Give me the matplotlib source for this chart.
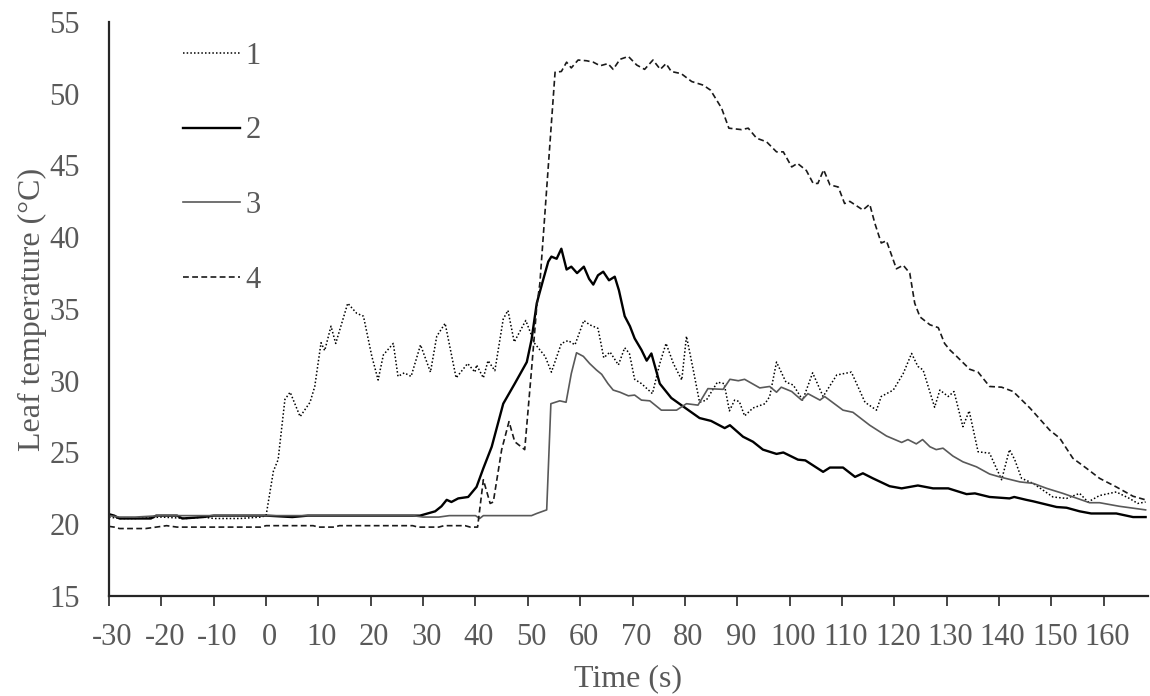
import matplotlib
matplotlib.use('Agg')
import matplotlib.pyplot as plt
import matplotlib.transforms as mtransforms

# series 1 (dotted)
t1 = [-30, -28, -25, -20, -15, -12, -10, -5, -1, 0, 1.4, 2.3, 3.6, 4.6, 6.5, 8.4, 9.3, 10.5, 11.2,
      12.4, 13.3, 15.6, 17.3, 18.6, 20.2, 21.4, 22.4, 24.3, 25.2, 26.4, 27.7, 29.5, 31.4, 32.6,
      34.2, 36.3, 38.5, 39.9, 40.2, 41.5, 42.4, 43.7, 45.3, 46.2, 47.4, 49.6, 51.3, 53.3, 54.5,
      56.4, 57.7, 59.0, 60.7, 61.8, 63.4, 64.5, 65.7, 67.3, 68.5, 69.4, 70.4, 71.7, 73.8, 75.2,
      76.4, 77.8, 79.4, 80.3, 81.6, 82.8, 84.1, 86.2, 87.5, 88.5, 89.5, 90.4, 91.4, 93.0, 95.3,
      96.2, 97.5, 99.3, 100.7, 102.5, 104.4, 106.4, 109.0, 111.8, 114.4, 116.6, 117.5, 119.8,
      121.7, 123.3, 124.5, 125.5, 127.7, 128.7, 130.3, 131.4, 133.1, 134.3, 136.0, 138.2, 140.5,
      142.0, 143.0, 144.3, 146.5, 150.3, 152.9, 155.4, 157.0, 159.2, 162.4, 164.9, 166.5, 168]
v1 = [20.5, 20.4, 20.4, 20.5, 20.4, 20.5, 20.4, 20.4, 20.5, 20.6, 23.7, 24.5, 28.7, 29.2, 27.5,
      28.5, 29.6, 32.65, 32.1, 33.8, 32.6, 35.4, 34.7, 34.5, 31.7, 30.05, 31.8, 32.6, 30.3, 30.55,
      30.3, 32.5, 30.6, 33.1, 34.0, 30.2, 31.2, 30.6, 31.1, 30.2, 31.4, 30.7, 34.3, 34.9, 32.7,
      34.2, 32.6, 31.7, 30.6, 32.6, 32.8, 32.5, 34.2, 33.9, 33.65, 31.6, 32.0, 31.1, 32.3, 31.9,
      30.1, 29.8, 29.1, 31.2, 32.6, 31.2, 30.05, 33.1, 30.75, 28.5, 28.65, 29.9, 29.8, 27.9, 28.65,
      28.55, 27.55, 28.1, 28.4, 28.9, 31.3, 29.9, 29.7, 28.65, 30.55, 28.9, 30.4, 30.6, 28.5,
      27.95, 28.9, 29.35, 30.5, 31.9, 31.0, 30.75, 28.15, 29.35, 28.9, 29.25, 26.8, 27.9, 25.05,
      24.95, 23.1, 25.2, 24.5, 23.2, 22.85, 21.9, 21.8, 22.15, 21.55, 22.0, 22.25, 21.8, 21.45,
      21.55]

# series 2 (black solid)
t2 = [-30, -29, -28, -22, -21, -17, -16, -12, -10, 0, 5, 8, 14, 29.4, 32.3, 33.5, 34.5, 35.4,
      36.7, 38.6, 40.2, 41.5, 43.1, 45.3, 47.5, 49.8, 50.7, 51.7, 52.9, 53.9, 54.5, 55.5, 56.4,
      57.4, 58.3, 59.4, 60.7, 61.7, 62.5, 63.4, 64.4, 65.5, 66.6, 67.4, 68.5, 69.5, 70.4, 71.7,
      72.7, 73.6, 75.2, 77.4, 79.7, 82.8, 85.0, 87.6, 88.6, 91.1, 93.0, 94.9, 97.5, 98.8, 101.6,
      103.0, 106.4, 107.7, 110.2, 112.5, 114.0, 115.9, 119.1, 121.4, 124.5, 127.4, 130.3, 133.8,
      135.4, 138.2, 142.0, 142.9, 145.2, 146.5, 151.0, 152.9, 155.4, 157.6, 162.4, 165.6, 168]
v2 = [20.7, 20.6, 20.4, 20.4, 20.6, 20.6, 20.4, 20.5, 20.6, 20.6, 20.5, 20.6, 20.6, 20.6, 20.9,
      21.25, 21.7, 21.55, 21.8, 21.9, 22.6, 23.9, 25.4, 28.4, 29.8, 31.3, 32.85, 35.4, 37.0, 38.3,
      38.65, 38.5, 39.2, 37.75, 37.95, 37.5, 37.95, 37.1, 36.7, 37.35, 37.6, 37.0, 37.25, 36.3,
      34.5, 33.8, 32.95, 32.15, 31.4, 31.9, 29.8, 28.8, 28.2, 27.4, 27.2, 26.7, 26.9, 26.1, 25.75,
      25.2, 24.9, 25.0, 24.5, 24.45, 23.65, 23.95, 23.95, 23.3, 23.55, 23.2, 22.65, 22.5, 22.7,
      22.5, 22.5, 22.1, 22.15, 21.9, 21.8, 21.9, 21.7, 21.6, 21.2, 21.15, 20.9, 20.75, 20.75,
      20.5, 20.5]

# series 3 (grey solid)
t3 = [-30, -28, -25, -20, 0, 10, 28, 30, 33, 35, 40, 40.8, 41.5, 50.7, 51.7, 53.6, 54.4, 56.1,
      57.3, 58.3, 59.3, 60.6, 61.8, 63.1, 64.1, 65.3, 66.3, 67.6, 69.2, 70.4, 71.7, 73.3, 75.5,
      78.4, 80.3, 82.5, 84.4, 87.3, 88.6, 90.2, 91.4, 94.3, 96.2, 97.5, 98.4, 100.4, 102.3, 103.5,
      105.8, 106.7, 110.2, 112.1, 115.3, 118.5, 121.4, 122.6, 124.2, 125.4, 126.8, 128.0, 129.3,
      131.2, 133.1, 135.7, 138.2, 140.1, 144.0, 146.5, 149.1, 152.2, 157.3, 159.2, 163.0, 168]
v3 = [20.6, 20.5, 20.5, 20.6, 20.6, 20.6, 20.6, 20.5, 20.5, 20.6, 20.6, 20.4, 20.6, 20.6, 20.75,
      21.0, 28.4, 28.6, 28.5, 30.5, 31.95, 31.7, 31.2, 30.75, 30.45, 29.8, 29.35, 29.2, 28.95,
      29.0, 28.65, 28.6, 27.95, 27.95, 28.4, 28.3, 29.45, 29.4, 30.1, 30.0, 30.1, 29.5, 29.6, 29.2,
      29.55, 29.25, 28.65, 29.1, 28.65, 28.9, 27.95, 27.8, 26.9, 26.15, 25.7, 25.9, 25.6, 25.9,
      25.4, 25.2, 25.3, 24.75, 24.35, 24.0, 23.5, 23.3, 22.95, 22.85, 22.5, 22.15, 21.5, 21.5,
      21.25, 21.0]

# series 4 (dashed)
t4 = [-30, -29, -28, -23, -21, -19, -17, -10, -1, 0, 9, 10, 13, 14, 28, 29, 33, 34, 38, 39, 40.4,
      41.5, 42.8, 43.4, 45.0, 46.4, 47.5, 49.4, 50.7, 51.7, 52.3, 55.2, 56.4, 57.4, 58.3, 59.6,
      61.2, 62.5, 63.8, 65.3, 66.3, 67.6, 69.2, 70.8, 72.3, 73.9, 75.3, 76.4, 77.4, 79.3, 81.3,
      83.5, 84.9, 87.0, 88.4, 90.8, 92.1, 93.7, 95.6, 97.5, 98.8, 100.4, 101.5, 103.2, 104.5,
      105.4, 106.5, 107.7, 109.3, 110.5, 111.5, 114.0, 115.3, 116.3, 117.5, 118.5, 120.4, 121.7,
      122.95, 123.9, 124.9, 126.8, 128.4, 129.6, 130.6, 131.9, 134.4, 136.0, 138.2, 140.5, 142.7,
      145.9, 149.7, 151.6, 154.1, 156.7, 159.2, 162.4, 165.6, 168]
v4 = [19.85, 19.8, 19.7, 19.7, 19.8, 19.9, 19.8, 19.8, 19.8, 19.9, 19.9, 19.8, 19.8, 19.9, 19.9,
      19.8, 19.8, 19.9, 19.9, 19.8, 19.8, 23.1, 21.45, 21.55, 25.2, 27.15, 25.75, 25.2, 30.75,
      35.15, 36.8, 51.5, 51.55, 52.2, 51.8, 52.35, 52.3, 52.2, 51.95, 52.1, 51.7, 52.4, 52.6, 52.0,
      51.7, 52.35, 51.7, 52.1, 51.55, 51.4, 50.85, 50.6, 50.25, 49.0, 47.6, 47.5, 47.6, 46.9,
      46.65, 45.95, 45.95, 44.9, 45.15, 44.65, 43.75, 43.75, 44.7, 43.65, 43.5, 42.35, 42.5, 41.9,
      42.3, 40.95, 39.6, 39.75, 37.8, 38.05, 37.5, 35.4, 34.45, 33.9, 33.7, 32.6, 32.15, 31.7,
      30.8, 30.6, 29.6, 29.55, 29.25, 28.1, 26.55, 26.0, 24.6, 23.9, 23.2, 22.6, 21.95, 21.7]

xticks = list(range(-30, 161, 10))
yticks = list(range(15, 56, 5))

grey = '#595959'
plt.rcParams['font.family'] = ['Liberation Serif', 'DejaVu Serif']
plt.rcParams['axes.unicode_minus'] = False

fig = plt.figure(figsize=(11.5, 6.96), dpi=100)
ax = fig.add_axes([0.0948, 0.1437, 0.9032, 0.8247])

ax.plot(t1, v1, color='black', lw=1.1, linestyle=(0, (1, 1.4)), label='1')
ax.plot(t2, v2, color='black', lw=1.7, label='2')
ax.plot(t3, v3, color=grey, lw=1.2, label='3')
ax.plot(t4, v4, color='#1a1a1a', lw=1.2, linestyle=(0, (3.5, 2)), label='4')

ax.set_xlim(-30, 168.4)
ax.set_ylim(15, 55)
ax.set_xticks(xticks)
ax.set_yticks(yticks)
ax.tick_params(axis='x', direction='out', length=7, width=1.2, color='#262626',
               labelsize=22, labelcolor=grey, pad=12.5)
ax.tick_params(axis='y', length=0, labelsize=22, labelcolor=grey, pad=21)

# x labels sit a little right of their ticks, like the original
shift = mtransforms.ScaledTranslation(0.035, 0, fig.dpi_scale_trans)
for lab in ax.get_xticklabels():
    lab.set_transform(lab.get_transform() + shift)

for s in ['top', 'right']:
    ax.spines[s].set_visible(False)
for s in ['left', 'bottom']:
    ax.spines[s].set_linewidth(1.6)
    ax.spines[s].set_color('#262626')

ax.set_xlabel('Time (s)', fontsize=23, color=grey, labelpad=9)
ax.set_ylabel('Leaf temperature (°C)', fontsize=23, color=grey, labelpad=2)

ax.legend(loc='upper left', bbox_to_anchor=(0.0712, 0.966), frameon=False,
          fontsize=22, labelcolor=grey, handlelength=1.85, handletextpad=0.2,
          labelspacing=1.5, borderpad=0, borderaxespad=0)

fig.savefig('out.png', dpi=100)
